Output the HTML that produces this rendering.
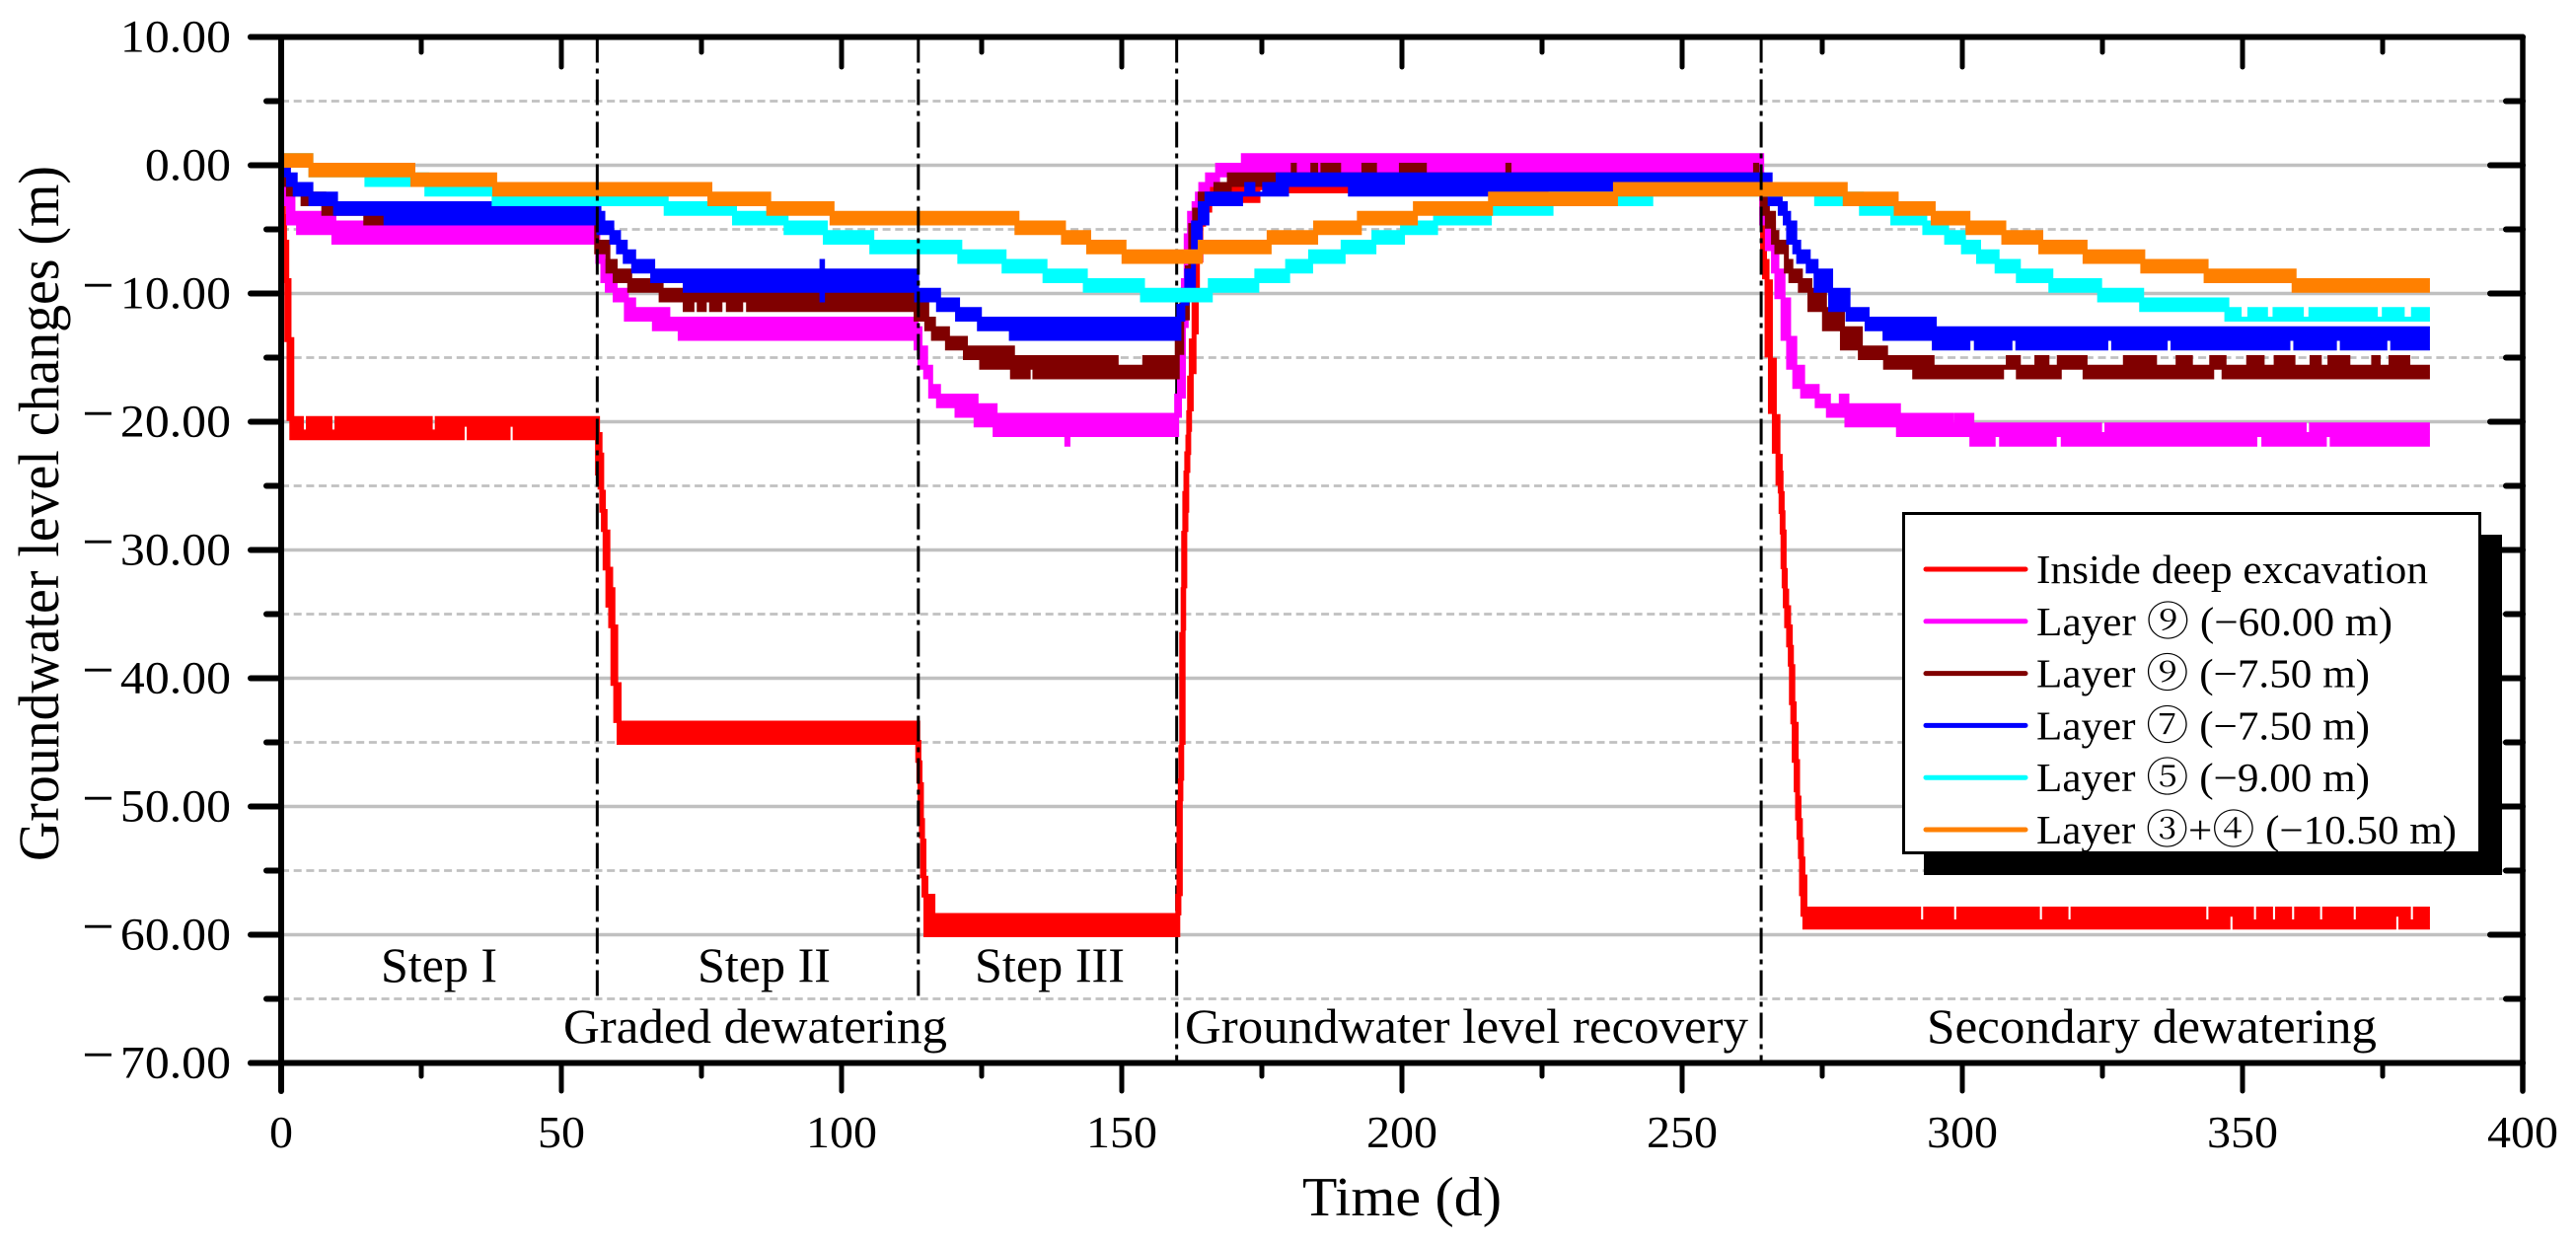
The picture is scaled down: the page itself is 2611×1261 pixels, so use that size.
<!DOCTYPE html>
<html lang="en">
<head>
<meta charset="utf-8">
<title>Groundwater level changes over time</title>
<style>
html,body{margin:0;padding:0;background:#fff}
svg{display:block}
text{font-family:"Liberation Serif","Noto Serif CJK SC",serif;fill:#000}
</style>
</head>
<body>
<svg id="chart" xmlns="http://www.w3.org/2000/svg" width="2611" height="1261" viewBox="0 0 2611 1261">
<rect x="0" y="0" width="2611" height="1261" fill="#fff"/>
<g id="grid"></g>
<g id="phaseBack"></g>
<g id="series"></g>
<g id="phaseFront"></g>
<g id="axes"></g>
<text x="59" y="873" font-size="58" transform="rotate(-90 59 873)" textLength="705" lengthAdjust="spacingAndGlyphs">Groundwater level changes (m)</text>
<text x="1320" y="1232" font-size="56" textLength="202" lengthAdjust="spacingAndGlyphs">Time (d)</text>
<text x="386" y="995" font-size="50" textLength="118" lengthAdjust="spacingAndGlyphs">Step I</text>
<text x="707" y="995" font-size="50" textLength="135" lengthAdjust="spacingAndGlyphs">Step II</text>
<text x="988" y="995" font-size="50" textLength="152" lengthAdjust="spacingAndGlyphs">Step III</text>
<text x="571" y="1057" font-size="50" textLength="389" lengthAdjust="spacingAndGlyphs">Graded dewatering</text>
<text x="1201" y="1057" font-size="50" textLength="571" lengthAdjust="spacingAndGlyphs">Groundwater level recovery</text>
<text x="1953" y="1057" font-size="50" textLength="456" lengthAdjust="spacingAndGlyphs">Secondary dewatering</text>
<g id="legend">
<rect x="1950" y="542" width="586" height="345" fill="#000"/>
<rect x="1929.5" y="520.5" width="584" height="344" fill="#fff" stroke="#000" stroke-width="3"/>
</g>
</svg>
<script>
// ---- axis labels and tick values ----
const yMajorTicks = [10, 0, -10, -20, -30, -40, -50, -60, -70];
const yMajorLabels = ["10.00", "0.00", "10.00", "20.00", "30.00", "40.00", "50.00", "60.00", "70.00"];
const yMinorTicks = [5, -5, -15, -25, -35, -45, -55, -65];
const xMajorTicks = [0, 50, 100, 150, 200, 250, 300, 350, 400];
const xMajorLabels = ["0", "50", "100", "150", "200", "250", "300", "350", "400"];
const xMinorTicks = [25, 75, 125, 175, 225, 275, 325, 375];
const phaseTimes = [56.4, 113.7, 159.8, 264.1];
const phaseBottoms = [-65, -65, -70, -70];

// ---- series: each segment i spans t[i]..t[i+1] between hi[i] and lo[i] (m) ----
const redT = [0,.4,.6,1,1.4,1.9,3.6,4.85,8.7,9.95,26.6,27.85,32.3,33.55,40.5,41.75,56.45,56.9,57.2,57.5,57.8,58.3,58.8,59.2,59.7,60.3,113.6,113.8,114,114.25,114.45,114.7,115.05,116.3,160,160.2,160.45,160.55,160.7,160.95,161.05,161.25,161.45,161.6,161.8,161.95,162.1,162.4,162.9,163.3,163.5,164.1,164.6,165.7,167.6,174.3,176.3,264.35,264.7,265.15,265.75,266.45,267.1,267.5,267.65,267.85,268,268.2,268.4,268.65,269,269.3,269.5,269.75,270,270.35,270.6,270.85,271.1,271.3,271.55,271.9,292.2,293.45,298.1,299.35,313.4,314.65,318.5,319.75,343.1,344.35,347.4,348.65,351.6,352.85,355,356.25,358.4,359.65,363.4,364.65,369.4,370.65,377,378.25,379.6,380.85,383];
const redHi = [-1.5,-4,-6,-9,-13.6,-19.75,-20.8,-19.75,-20.8,-19.75,-20.8,-19.75,-19.75,-19.75,-19.75,-19.75,-21,-22.6,-25.5,-27,-28.6,-31.5,-33.1,-36,-40.5,-43.5,-45,-46.6,-48.3,-51.1,-52.7,-55.6,-57,-58.5,-57,-49.7,-48,-45.4,-36.6,-33.1,-28.7,-25.6,-24,-22.5,-21.2,-19.3,-16.6,-13.7,-10.1,-7.8,-5,-3.7,-2.75,-1.75,-1.75,-1,-1.5,-3.4,-7.5,-9.1,-15.2,-19.6,-22.7,-24,-25.6,-27.1,-28.6,-31.6,-33.2,-34.5,-36,-37.6,-39.1,-42,-43.6,-46.5,-49.35,-51.1,-52.6,-54.1,-55.5,-58,-59,-58,-59,-58,-59,-58,-59,-58,-59,-58,-58,-58,-59,-58,-59,-58,-59,-58,-59,-58,-59,-58,-58,-58,-59,-58];
const redLo = [-4,-6,-9,-13.6,-19.75,-21.25,-21.25,-21.25,-21.25,-21.25,-21.25,-21.25,-20.2,-21.25,-20.2,-21.25,-24,-25.1,-26.9,-28.4,-31.4,-34.3,-35.9,-40.4,-43.3,-45,-46.4,-48,-50.8,-52.3,-55.4,-56.9,-60,-60,-58.3,-56.8,-49.4,-47.8,-45,-36.1,-32.8,-28.4,-26.9,-23.8,-22.4,-20.6,-19,-16.1,-13,-9.7,-7.4,-4.6,-3.5,-3,-2.75,-1.75,-2,-7.2,-8.7,-14.8,-19.2,-22.3,-24.8,-25.4,-27,-28.6,-31.3,-32.8,-34.35,-35.9,-37.4,-38.9,-41.9,-43.4,-46.4,-48.7,-50.9,-52.4,-53.9,-56.8,-58.4,-59.4,-59.4,-59.4,-59.4,-59.4,-59.4,-59.4,-59.4,-59.4,-59.4,-59.4,-58.4,-59.4,-59.4,-59.4,-59.4,-59.4,-59.4,-59.4,-59.4,-59.4,-59.4,-59.4,-58.4,-59.4,-59.4,-59.4];

const magentaT = [0,1.3,2.1,3.1,9.4,56.5,57.4,58.2,59.6,61.6,62.9,66.6,69,71.2,113.3,114,115,115.9,117.3,120.6,124,127.4,140.2,140.4,159.8,160.3,161,161.5,162.1,162.9,163.5,164.1,165.3,167.1,171.7,264.2,265.2,266.3,266.9,268,269,270.1,271.5,274.1,276.1,278.4,279.4,288.6,295,298,298.9,301.7,305.5,307,316.4,318,324.5,325.8,352.2,353.8,361,362.3,364.6,366,383];
const magentaHi = [-1.5,-2.25,-3.75,-3.75,-4.5,-6.75,-7.5,-8.25,-9.75,-10.5,-11.25,-11.25,-12,-12,-12.75,-14.25,-15.75,-17.25,-18,-18,-18.75,-19.5,-19.5,-19.5,-18,-12.5,-9,-5.5,-3.75,-3,-2.25,-1.5,-.75,0,.75,-2.25,-4.5,-6.75,-8.25,-10.5,-13.5,-15.75,-17.25,-18,-18.75,-18,-18.75,-19.5,-19.5,-20.25,-19.5,-20.25,-20.25,-20.25,-20.25,-20.25,-21,-20.25,-20.25,-20.25,-21,-20.25,-20.25,-20.25];
const magentaLo = [-3,-4.5,-4.5,-5.25,-6,-7.5,-9,-9.75,-10.5,-12,-12,-12.75,-12.75,-13.5,-14.25,-15.75,-16.5,-18,-18.75,-19.5,-20.25,-21,-21.75,-21,-19.5,-18,-12.5,-9,-5.25,-3.75,-3,-2.25,-1.5,-.75,-.75,-4.5,-6.5,-8.25,-10.25,-13.5,-15.75,-17.25,-18,-18.75,-19.5,-19.5,-20.25,-21,-21,-21,-21,-21.75,-21,-21.75,-21,-21.75,-21.75,-21.75,-21,-21.75,-21.75,-21.75,-21,-21.75];

const brownT = [0,1.3,3.3,3.9,5,7.6,15.1,56.3,58.3,59.6,62.2,67.8,72.1,73.3,74.6,75.5,76.8,78.3,79.8,82,83.4,113.3,115.2,116.4,118.9,122.1,125,130.5,133.3,134.5,149,154.1,159.9,160.7,161.7,162.3,163,164,166.8,169.2,180.6,180.8,184.1,184.6,185.9,188.7,193.2,195.1,199.9,204,218.9,219.1,263.1,263.3,264.3,265.2,266.3,266.9,268.6,269.4,271.1,272.8,275.4,278.6,281.8,286.3,291.5,294.6,307,308.2,310,313.3,315.1,317.3,321.9,329.1,334.3,338.5,340.7,344.5,346.7,351.1,353.5,356,359,362.4,363.7,365.6,368.8,373.4,374.2,376.5,379.5,383];
const brownHi = [-.75,-1.5,-2.25,-2.25,-2.25,-3,-3.75,-6,-7.5,-8.25,-9,-9.75,-9.75,-9.75,-9.75,-9.75,-9.75,-9.75,-9.75,-9.75,-9.75,-10.5,-12,-12.75,-13.5,-14.25,-14.25,-15,-15,-15,-15.75,-15,-13.7,-10.9,-8,-4.7,-3.5,-2.25,-1.5,-.75,0,-.75,0,-.75,0,-.75,0,-.75,0,-.75,0,-.75,0,-.75,-2.25,-3.75,-5.25,-6,-7.5,-8.25,-9,-9.75,-11.25,-12.75,-14.25,-15,-15,-15.75,-15.75,-15,-15.75,-15,-15.75,-15,-15.75,-15,-15.75,-15,-15.75,-15,-15.75,-15,-15.75,-15,-15.75,-15,-15.75,-15,-15.75,-15,-15.75,-15,-15.75];
const brownLo = [-1.5,-2.25,-2.25,-3,-3,-3.75,-4.5,-6.75,-8.25,-9,-9.75,-10.5,-11.25,-10.5,-11.25,-10.5,-11.25,-10.5,-11.25,-10.5,-11.25,-12,-12.75,-13.5,-14.25,-15,-15.75,-16.5,-15.75,-16.5,-16.5,-16.5,-14.6,-11.9,-9,-5.7,-4.5,-3,-2.25,-1.5,-.75,-1.5,-.75,-1.5,-.75,-1.5,-.75,-1.5,-.75,-1.5,-.75,-1.5,-.75,-1.5,-3.75,-4.75,-6,-6.75,-8.25,-9,-9.75,-11.25,-12.75,-14.25,-15,-15.75,-16.5,-16.5,-15.75,-15.75,-16.5,-16.5,-16.5,-15.75,-16.5,-16.5,-16.5,-16.5,-16.5,-15.75,-16.5,-16.5,-16.5,-16.5,-16.5,-16.5,-16.5,-16.5,-16.5,-16.5,-16.5,-16.5,-16.5];

const blueT = [0,1.3,2.5,5.3,9.7,18.7,56.7,57.4,59,60.2,61.4,62.9,66.3,72.1,96.5,96.6,113.4,117.3,120.7,124.6,130.3,160.2,160.9,161.6,162.8,164,165.2,171.2,172.3,173.4,175.5,177.9,179.4,190.8,237.6,265.7,267.5,268.4,269,270.1,270.8,272.5,273.9,276.5,279.6,283,286.2,295,301,302.5,308.5,309.9,325.6,327,336.2,337.6,358.1,359.5,366.4,367.8,375.4,376.8,383];
const blueHi = [0,-.75,-1.5,-2.25,-3,-3,-3.75,-4.5,-5.25,-6,-6.75,-7.5,-8.25,-8.25,-7.5,-8.25,-9.75,-10.5,-11.25,-12,-12,-11,-9.75,-8.25,-4.5,-3,-2.25,-2.25,-1.5,-2.25,-1.5,-.75,-.75,-.75,-.75,-2.25,-3,-3.75,-4.5,-6,-6.75,-7.5,-8.25,-9.75,-11.25,-12,-12,-12.75,-12.75,-12.75,-12.75,-12.75,-12.75,-12.75,-12.75,-12.75,-12.75,-12.75,-12.75,-12.75,-12.75,-12.75];
const blueLo = [-.75,-1.5,-2.25,-3,-3.75,-4.5,-5.25,-5.25,-6,-6.75,-7.5,-8.25,-9,-9.75,-10.5,-9.75,-10.5,-11.25,-12,-12.75,-13.5,-12,-10.75,-9.75,-6.5,-4.5,-3,-2.25,-2.25,-2.25,-2.25,-2.25,-1.5,-2.25,-1.5,-3,-3.75,-4.5,-6,-6.75,-7.5,-8.25,-9.75,-11.25,-12,-12.75,-13.5,-14.25,-13.5,-14.25,-13.5,-14.25,-13.5,-14.25,-13.5,-14.25,-13.5,-14.25,-13.5,-14.25,-13.5,-14.25];

const cyanT = [0,5.3,15.3,26,38,68.7,80.9,90.1,97.1,105.4,121.1,129,136.3,143.5,153.7,165.8,174.1,179.6,183.7,189.5,195,200.1,206,215.6,226.6,244.4,274,282,287.6,293.3,297.2,300.2,302.9,306.2,310,315.8,324.5,332,347.2,349.4,351.3,354.1,355.8,360.5,362.2,373.7,375.3,378.5,380.5,383];
const cyanHi = [.75,0,-.75,-1.5,-2.25,-3,-3.75,-4.5,-5.25,-6,-6.75,-7.5,-8.25,-9,-9.75,-9,-8.25,-7.5,-6.75,-6,-5.25,-4.5,-3.75,-3,-2.25,-1.5,-2.25,-3,-3.75,-4.5,-5.25,-6,-6.75,-7.5,-8.25,-9,-9.75,-10.5,-11.25,-12,-11.25,-12,-11.25,-12,-11.25,-12,-11.25,-12,-11.25];
const cyanLo = [0,-.75,-1.5,-2.25,-3,-3.75,-4.5,-5.25,-6,-6.75,-7.5,-8.25,-9,-9.75,-10.5,-9.75,-9,-8.25,-7.5,-6.75,-6,-5.25,-4.5,-3.75,-3,-2.25,-3,-3.75,-4.5,-5.25,-6,-6.75,-7.5,-8.25,-9,-9.75,-10.5,-11.25,-12,-12,-12,-12,-12,-12,-12,-12,-12,-12,-12];

const orangeT = [0,5.3,23.5,38.1,76.5,87,98.3,131.3,139.6,144.1,150.4,164,176.3,184.6,192.4,202.4,215.8,238.1,279.1,288.2,294.8,301,307.4,314,321.9,332.2,343.5,359.2,383];
const orangeHi = [.75,0,-.75,-1.5,-2.25,-3,-3.75,-4.5,-5.25,-6,-6.75,-6,-5.25,-4.5,-3.75,-3,-2.25,-1.5,-2.25,-3,-3.75,-4.5,-5.25,-6,-6.75,-7.5,-8.25,-9];
const orangeLo = [0,-.75,-1.5,-2.25,-3,-3.75,-4.5,-5.25,-6,-6.75,-7.5,-6.75,-6,-5.25,-4.5,-3.75,-3,-2.25,-3,-3.75,-4.5,-5.25,-6,-6.75,-7.5,-8.25,-9,-9.75];

const legendLabels = ["Inside deep excavation", "Layer \u2468 (\u221260.00 m)", "Layer \u2468 (\u22127.50 m)", "Layer \u2466 (\u22127.50 m)", "Layer \u2464 (\u22129.00 m)", "Layer \u2462+\u2463 (\u221210.50 m)"];

// ---- axis functions ----
const NS = "http://www.w3.org/2000/svg";
function xScale(t) { return 285 + t * 5.68; }
function yScale(v) { return 167.5 - v * 13; }
function setAll(el, attrs) { for (const k in attrs) el.setAttribute(k, attrs[k]); return el; }
function line(parent, x1, y1, x2, y2, stroke, width, extra) {
  const l = document.createElementNS(NS, "line");
  setAll(l, {x1: x1, y1: y1, x2: x2, y2: y2, stroke: stroke, "stroke-width": width});
  if (extra) setAll(l, extra);
  parent.appendChild(l);
  return l;
}

const gridG = document.getElementById("grid");
const axesG = document.getElementById("axes");
const plotLeft = xScale(0), plotRight = xScale(400), plotTop = yScale(10), plotBottom = yScale(-70);

// grid lines
yMajorTicks.forEach(function (v) {
  if (v === 10 || v === -70) return;
  const g = line(gridG, plotLeft, yScale(v), plotRight, yScale(v), "#c0c0c0", 3.6);
  
  
});
yMinorTicks.forEach(function (v) {
  const g = line(gridG, plotLeft, yScale(v), plotRight, yScale(v), "#c0c0c0", 2.8, {"stroke-dasharray": "8 4.7"});
  
  
});

// phase dividers
phaseTimes.forEach(function (t, i) {
  const parent = document.getElementById(i === 2 ? "phaseBack" : "phaseFront");
  const d = line(parent, xScale(t), plotTop, xScale(t), yScale(phaseBottoms[i]), "#000", 3, {"stroke-dasharray": "26 6 5 6"});
  
  
});

// series
function drawSeries(name, color, ts, his, los) {
  const n = Math.min(ts.length - 1, his.length, los.length);
  const top = [], bottom = [];
  for (let i = 0; i < n; i++) {
    top.push(xScale(ts[i]) + "," + yScale(his[i]));
    top.push(xScale(ts[i + 1]) + "," + yScale(his[i]));
    bottom.push(xScale(ts[i]) + "," + yScale(los[i]));
    bottom.push(xScale(ts[i + 1]) + "," + yScale(los[i]));
  }
  const poly = document.createElementNS(NS, "polygon");
  setAll(poly, {points: top.concat(bottom.reverse()).join(" "), fill: color, stroke: color, "stroke-width": 5, "stroke-linejoin": "miter", "stroke-miterlimit": 2});
  
  
  document.getElementById("series").appendChild(poly);
}
drawSeries("series-inside-excavation", "#ff0000", redT, redHi, redLo);
drawSeries("series-layer-9-deep", "#ff00ff", magentaT, magentaHi, magentaLo);
drawSeries("series-layer-9-shallow", "#800000", brownT, brownHi, brownLo);
drawSeries("series-layer-7", "#0000ff", blueT, blueHi, blueLo);
drawSeries("series-layer-5", "#00ffff", cyanT, cyanHi, cyanLo);
drawSeries("series-layer-3-4", "#ff8000", orangeT, orangeHi, orangeLo);

// axes frame
const round = {"stroke-linecap": "round"};
const axisLeft = line(axesG, plotLeft, plotTop, plotLeft, 1106, "#000", 6, round);


const axisRight = line(axesG, plotRight, plotTop, plotRight, 1106, "#000", 5.5, round);


const axisTop = line(axesG, 254, plotTop, plotRight, plotTop, "#000", 6, round);


const axisBottom = line(axesG, 254, plotBottom, plotRight, plotBottom, "#000", 6, round);



// y ticks and labels
yMajorTicks.forEach(function (v, i) {
  const y = yScale(v);
  const t1 = line(axesG, 254, y, plotLeft, y, "#000", 6, round);
  
  
  const t2 = line(axesG, plotRight, y, 2524, y, "#000", 6, round);
  
  
  const txt = yMajorLabels[i];
  const label = document.createElementNS(NS, "text");
  setAll(label, {x: 234, y: y + 15, "font-size": 46.5, "text-anchor": "end", textLength: ((txt.length - 1) * 0.5 + 0.25) * 49.8, lengthAdjust: "spacingAndGlyphs"});
  
  
  label.textContent = txt;
  axesG.appendChild(label);
  if (v < 0) {
    const minus = document.createElementNS(NS, "text");
    setAll(minus, {x: 83, y: y + 11, "font-size": 58});
    
    
    minus.textContent = "\u2212";
    axesG.appendChild(minus);
  }
});
yMinorTicks.forEach(function (v) {
  const y = yScale(v);
  const t1 = line(axesG, 270, y, plotLeft, y, "#000", 6, round);
  
  
  const t2 = line(axesG, plotRight, y, 2540, y, "#000", 6, round);
  
  
});

// x ticks and labels
xMajorTicks.forEach(function (t, i) {
  const x = xScale(t);
  const t1 = line(axesG, x, plotBottom, x, 1106, "#000", 5, round);
  
  
  const t2 = line(axesG, x, plotTop, x, 68, "#000", 5, round);
  
  
  const txt = xMajorLabels[i];
  const label = document.createElementNS(NS, "text");
  setAll(label, {x: x, y: 1163, "font-size": 45.5, "text-anchor": "middle", textLength: txt.length * 0.5 * 48, lengthAdjust: "spacingAndGlyphs"});
  
  
  label.textContent = txt;
  axesG.appendChild(label);
});
xMinorTicks.forEach(function (t) {
  const x = xScale(t);
  const t1 = line(axesG, x, plotBottom, x, 1091, "#000", 5, round);
  
  
  const t2 = line(axesG, x, plotTop, x, 53, "#000", 5, round);
  
  
});

// legend (drawn above the axes so it hides the right-hand ticks)
const legendG = document.getElementById("legend");
document.querySelector("svg").appendChild(legendG);
const legendColors = ["#ff0000", "#ff00ff", "#800000", "#0000ff", "#00ffff", "#ff8000"];
const legendWidths = [397, 361, 338, 338, 338, 426];
legendLabels.forEach(function (txt, i) {
  const rowY = 577 + i * 52.8;
  const swatch = line(legendG, 1952, rowY, 2053, rowY, legendColors[i], 5, round);
  
  
  const label = document.createElementNS(NS, "text");
  setAll(label, {x: 2064, y: rowY + 14, "font-size": 41, textLength: legendWidths[i], lengthAdjust: "spacingAndGlyphs"});
  
  
  label.textContent = txt;
  legendG.appendChild(label);
});
</script>
</body>
</html>
